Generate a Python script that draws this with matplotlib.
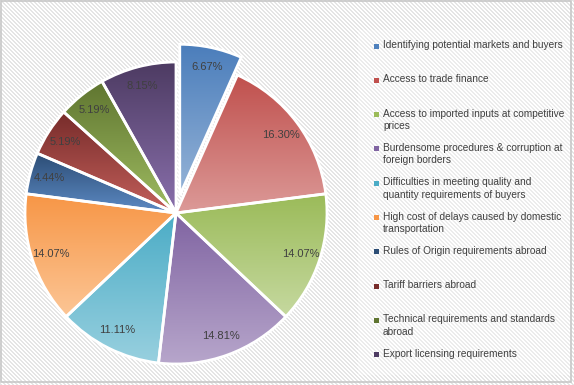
import textwrap
import numpy as np
import matplotlib
matplotlib.use('Agg')
import matplotlib.pyplot as plt
from matplotlib.colors import to_rgb
from matplotlib.patches import Rectangle

# data
labels = [
    'Identifying potential markets and buyers',
    'Access to trade finance',
    'Access to imported inputs at competitive prices',
    'Burdensome procedures & corruption at foreign borders',
    'Difficulties in meeting quality and quantity requirements of buyers',
    'High cost of delays caused by domestic transportation',
    'Rules of Origin requirements abroad',
    'Tariff barriers abroad',
    'Technical requirements and standards abroad',
    'Export licensing requirements',
]
shares = [6.67, 16.30, 14.07, 14.81, 11.11, 14.07, 4.44, 5.19, 5.19, 8.15]

# gradient colours, top -> bottom of each slice
top_colors = ['#4a7dbb', '#c0504d', '#9bbb59', '#8064a2', '#4bacc6',
              '#f79646', '#2c4d75', '#772c2a', '#5f7530', '#4d3b62']
bot_colors = ['#95b3d7', '#dc9a98', '#c6d9a0', '#b7a6cb', '#98d0df',
              '#fcc696', '#5d8ac4', '#c4605c', '#a0bd62', '#8a70ad']
legend_colors = ['#4f81bd', '#c0504d', '#9bbb59', '#8064a2', '#4bacc6',
                 '#f79646', '#2c4d75', '#772c2a', '#5f7530', '#4d3b62']

W, H = 574, 385
fig = plt.figure(figsize=(W / 100, H / 100), dpi=100)

# hatched background
yy, xx = np.mgrid[0:H, 0:W]
bg = np.ones((H, W, 3))
stripe = ((xx - yy) % 4) < 2
bg[stripe] = 0.9
fig.figimage(bg, 0, 0, zorder=-10)

# outer border and lighter legend area
fig.patches.append(Rectangle((0.5 / W, 3.5 / H), 570.5 / W, 381 / H,
                             transform=fig.transFigure, fill=False,
                             edgecolor='#c8c8c8', linewidth=1.2, zorder=-5))
fig.patches.append(Rectangle((358 / W, 10 / H), 212 / W, 345 / H,
                             transform=fig.transFigure, facecolor='white',
                             alpha=0.28, edgecolor='none', zorder=-5))

# pie axes: 1 unit = 151 px, centre at (176, 213) from top-left
R = 151.0
ax = fig.add_axes([0, 0, 356 / W, 1])
ax.set_facecolor('none')
ax.axis('off')

explode = [0.12] + [0] * (len(shares) - 1)
wedges, texts, autotexts = ax.pie(
    shares, explode=explode, startangle=90, counterclock=False,
    autopct='%.2f%%', pctdistance=0.87,
    wedgeprops=dict(edgecolor='white', linewidth=2, facecolor='none', zorder=3),
    textprops=dict(color='#404040', fontsize=8, family='Liberation Sans', zorder=4))

for w, ct, cb in zip(wedges, top_colors, bot_colors):
    bb = w.get_path().get_extents(w.get_patch_transform())
    t = np.linspace(0, 1, 256)[:, None, None]
    grad = (1 - t) * np.array(to_rgb(cb)) + t * np.array(to_rgb(ct))
    im = ax.imshow(grad, extent=[bb.x0, bb.x1, bb.y0, bb.y1], origin='lower',
                   aspect='auto', zorder=2, interpolation='bilinear')
    im.set_clip_path(w)

ax.set_xlim(-176 / R, (356 - 176) / R)
ax.set_ylim(-(H - 213) / R, 213 / R)

# legend
for i, (lab, col) in enumerate(zip(labels, legend_colors)):
    ytop = 40 + i * 34.3
    fig.patches.append(Rectangle((374 / W, 1 - (ytop + 8.5) / H), 5 / W, 5 / H,
                                 transform=fig.transFigure, facecolor=col,
                                 edgecolor='none'))
    fig.text(383 / W, 1 - ytop / H, textwrap.fill(lab, 40), ha='left', va='top',
             fontsize=7.3, color='#404040', family='Liberation Sans',
             linespacing=1.3)

fig.savefig('out.png', dpi=100)
